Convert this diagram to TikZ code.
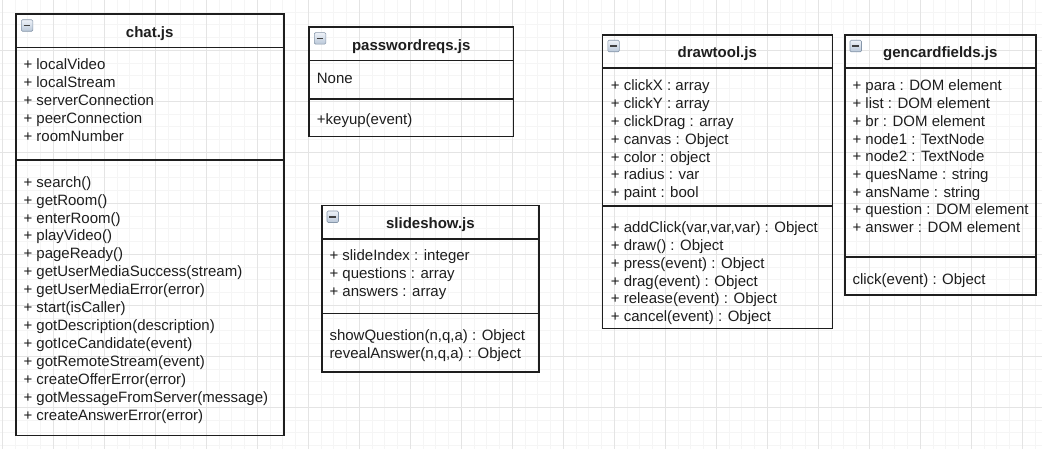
\documentclass[tikz,border=0pt]{standalone}
\usepackage{fontspec}
\setmainfont{Liberation Sans}
\definecolor{gridmin}{HTML}{F5F5F5}
\definecolor{gridmaj}{HTML}{E4E4E4}
\definecolor{ink}{HTML}{1E1E1E}
\definecolor{icontop}{HTML}{EEF2F8}
\definecolor{iconbot}{HTML}{B9C7D8}
\definecolor{iconedge}{HTML}{8797AA}
\begin{document}
\begin{tikzpicture}[x=1pt,y=-1pt,
  boxline/.style={draw=ink, line width=1.6pt},
  txt/.style={anchor=base west, inner sep=0pt, font=\fontsize{15}{18}\selectfont, text=ink},
  ttl/.style={anchor=base, inner sep=0pt, font=\fontsize{15}{18}\selectfont\bfseries, text=ink},
  icon/.style={draw=iconedge, line width=0.6pt, top color=icontop, bottom color=iconbot,
    rounded corners=1.2pt, minimum size=11.5pt, inner sep=0pt, anchor=north west,
    path picture={\draw[line width=1.6pt, draw=ink!85]
      ([xshift=2.4pt]path picture bounding box.west) -- ([xshift=-2.4pt]path picture bounding box.east);}}]
\useasboundingbox (0,0) rectangle (1042,449);
\fill[white] (0,0) rectangle (1042,449);
% grid
\foreach \i in {0,...,81} \draw[gridmin, line width=1pt] ({2.3+12.75*\i},0) -- ({2.3+12.75*\i},449);
\foreach \j in {0,...,35} \draw[gridmin, line width=1pt] (0,{-0.7+12.75*\j}) -- (1042,{-0.7+12.75*\j});
\foreach \i in {0,...,20} \draw[gridmaj, line width=1pt] ({2.3+51*\i},0) -- ({2.3+51*\i},449);
\foreach \j in {0,...,8} \draw[gridmaj, line width=1pt] (0,{-0.7+51*\j}) -- (1042,{-0.7+51*\j});

% ---------- chat.js ----------
\draw[boxline] (15.7,14.3) rectangle (283.7,435.3);
\draw[boxline] (15.7,47.7) -- (283.7,47.7);
\draw[boxline] (15.7,160) -- (283.7,160);
\node[icon] (chat-icon) at (21,19.5) {};
\node[ttl] (chat-title) at (149.7,37.3) {chat.js};
\foreach \t [count=\i] in {+ localVideo, + localStream, + serverConnection, + peerConnection, + roomNumber}
  \node[txt] (chat-a\i) at (23.3,{70+17.9*(\i-1)}) {\t};
\foreach \t [count=\i] in {+ search(), + getRoom(), + enterRoom(), + playVideo(), + pageReady(),
  + getUserMediaSuccess(stream), + getUserMediaError(error), + start(isCaller),
  + gotDescription(description), + gotIceCandidate(event), + gotRemoteStream(event),
  + createOfferError(error), + gotMessageFromServer(message), + createAnswerError(error)}
  \node[txt] (chat-m\i) at (23.3,{187.3+17.9*(\i-1)}) {\t};

% ---------- passwordreqs.js ----------
\draw[boxline] (309,27.3) rectangle (513.3,136.7);
\draw[boxline] (309,60.7) -- (513.3,60.7);
\draw[boxline] (309,99) -- (513.3,99);
\node[icon] (pw-icon) at (314,32.3) {};
\node[ttl] (pw-title) at (411.2,50.5) {passwordreqs.js};
\node[txt] (pw-a1) at (316.7,83.3) {None};
\node[txt] (pw-m1) at (316.7,125) {+keyup(event)};

% ---------- slideshow.js ----------
\draw[boxline] (321.7,205.7) rectangle (539,371.7);
\draw[boxline] (321.7,239) -- (539,239);
\draw[boxline] (321.7,313.3) -- (539,313.3);
\node[icon] (ss-icon) at (326.7,210.7) {};
\node[ttl] (ss-title) at (430.4,228.2) {slideshow.js};
\foreach \t [count=\i] in {+ slideIndex : integer, + questions : array, + answers : array}
  \node[txt] (ss-a\i) at (329.3,{261+17.9*(\i-1)}) {\t};
\foreach \t [count=\i] in {{showQuestion(n,q,a) : Object}, {revealAnswer(n,q,a) : Object}}
  \node[txt] (ss-m\i) at (329.3,{340.7+17.9*(\i-1)}) {\t};

% ---------- drawtool.js ----------
\draw[boxline] (602.3,35) rectangle (832.3,328.3);
\draw[boxline] (602.3,68.3) -- (832.3,68.3);
\draw[boxline] (602.3,206) -- (832.3,206);
\node[icon] (dt-icon) at (607.5,40) {};
\node[ttl] (dt-title) at (717.3,57.3) {drawtool.js};
\foreach \t [count=\i] in {+ clickX : array, + clickY : array, + clickDrag : array, + canvas : Object,
  + color : object, + radius : var, + paint : bool}
  \node[txt] (dt-a\i) at (610.7,{91+17.8*(\i-1)}) {\t};
\foreach \t [count=\i] in {{+ addClick(var,var,var) : Object}, + draw() : Object, + press(event) : Object,
  + drag(event) : Object, + release(event) : Object, + cancel(event) : Object}
  \node[txt] (dt-m\i) at (610.7,{232.7+17.8*(\i-1)}) {\t};

% ---------- gencardfields.js ----------
\draw[boxline] (844.7,35) rectangle (1036,295);
\draw[boxline] (844.7,68.3) -- (1036,68.3);
\draw[boxline] (844.7,257.3) -- (1036,257.3);
\node[icon] (gc-icon) at (849.7,40) {};
\node[ttl] (gc-title) at (940.3,57.3) {gencardfields.js};
\foreach \t [count=\i] in {+ para : DOM element, + list : DOM element, + br : DOM element,
  + node1 : TextNode, + node2 : TextNode, + quesName : string, + ansName : string,
  + question : DOM element, + answer : DOM element}
  \node[txt] (gc-a\i) at (852.3,{91+17.7*(\i-1)}) {\t};
\node[txt] (gc-m1) at (852.3,284) {click(event) : Object};
\end{tikzpicture}
\end{document}
